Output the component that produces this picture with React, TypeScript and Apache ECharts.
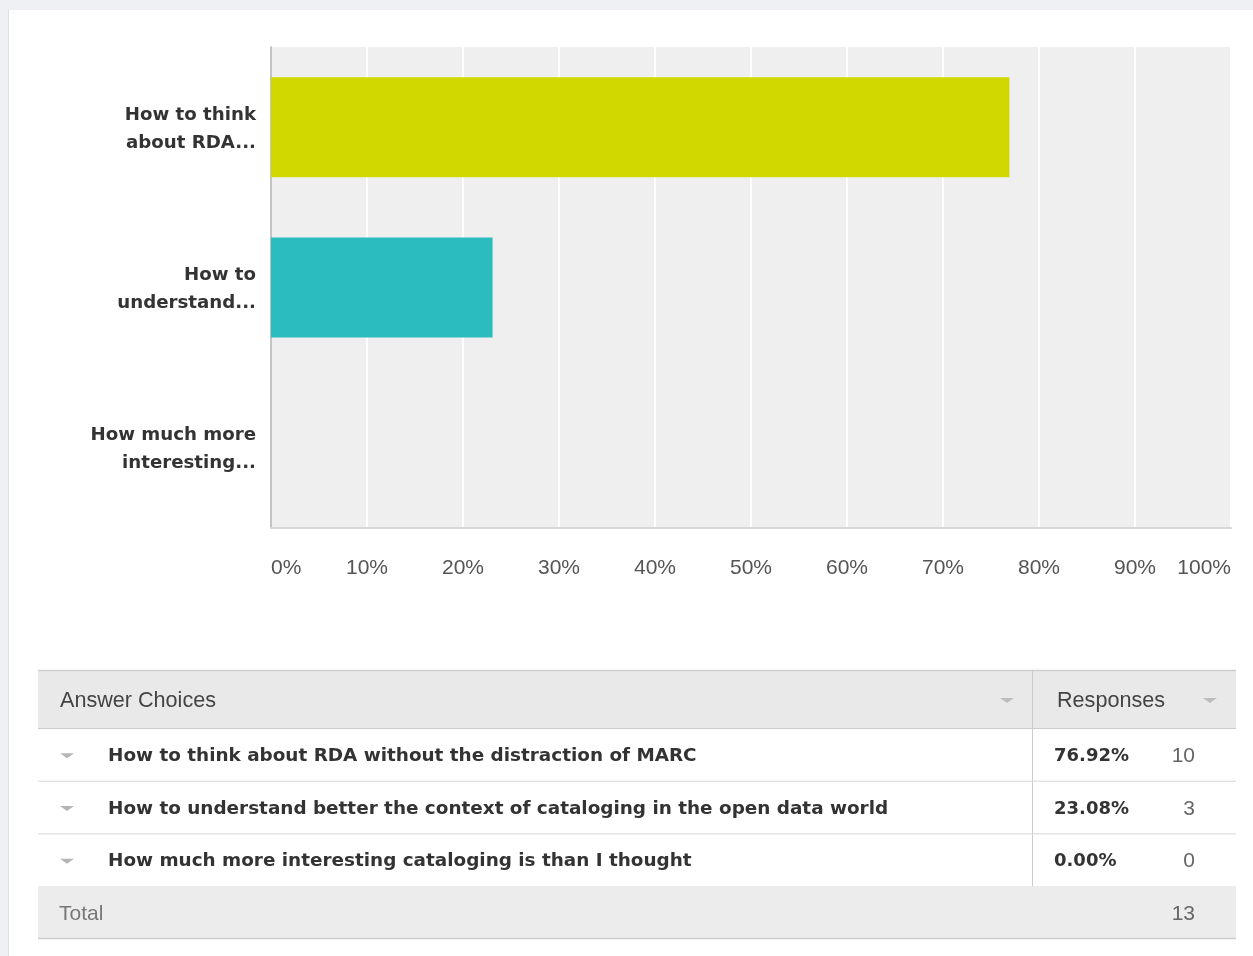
import React, { useEffect, useRef } from "react";
import * as echarts from "echarts";

const axisCategories = ["How to think\nabout RDA...", "How to\nunderstand...", "How much more\ninteresting..."];
const answerChoices = [
  "How to think about RDA without the distraction of MARC",
  "How to understand better the context of cataloging in the open data world",
  "How much more interesting cataloging is than I thought",
];
const percentValues = [76.92, 23.08, 0];
const responseCounts = [10, 3, 0];
const totalCount = 13;
const barColors = ["#d0d800", "#2abcbf", "#8c8c8c"];
const xTicks = [0, 10, 20, 30, 40, 50, 60, 70, 80, 90, 100];

const FONT = "'Liberation Sans', Arial, Helvetica, sans-serif";
const BFONT = "'DejaVu Sans', 'Liberation Sans', Arial, sans-serif";

function tri(x: number, y: number, color: string) {
  return {
    type: "polygon",
    shape: { points: [[x, y], [x + 14, y], [x + 7, y + 5]] },
    style: { fill: color },
    silent: true,
  };
}

export default function App() {
  const ref = useRef<HTMLDivElement>(null);
  useEffect(() => {
    if (!ref.current) return;
    const chart = echarts.init(ref.current, undefined, { renderer: "svg" });

    const tL = 38, tR = 1236, colX = 1032;
    const headerTop = 670, headerBot = 728;
    const rowH = 52.7;
    const rowsBot = headerBot + rowH * answerChoices.length;
    const totalBot = rowsBot + 52;

    const graphics: any[] = [
      { type: "rect", shape: { x: 0, y: 0, width: 1253, height: 956 }, style: { fill: "#eef0f3" }, z: -10, silent: true },
      { type: "rect", shape: { x: 9, y: 10, width: 1244, height: 946 }, style: { fill: "#ffffff" }, z: -9, silent: true },
      { type: "line", shape: { x1: 8.5, y1: 10, x2: 8.5, y2: 956 }, style: { stroke: "#dcdfe3", lineWidth: 1 }, z: -8, silent: true },
      { type: "rect", shape: { x: tL, y: headerTop, width: tR - tL, height: headerBot - headerTop }, style: { fill: "#e9e9e9" } },
      { type: "rect", shape: { x: tL, y: rowsBot, width: tR - tL, height: totalBot - rowsBot }, style: { fill: "#ececec" } },
      { type: "line", shape: { x1: tL, y1: headerTop + 0.5, x2: tR, y2: headerTop + 0.5 }, style: { stroke: "#cfcfcf", lineWidth: 1.5 } },
      { type: "line", shape: { x1: tL, y1: headerBot + 0.5, x2: tR, y2: headerBot + 0.5 }, style: { stroke: "#cccccc", lineWidth: 1 } },
      { type: "line", shape: { x1: tL, y1: totalBot + 0.5, x2: tR, y2: totalBot + 0.5 }, style: { stroke: "#cccccc", lineWidth: 1.5 } },
      { type: "line", shape: { x1: colX + 0.5, y1: headerTop, x2: colX + 0.5, y2: rowsBot }, style: { stroke: "#cccccc", lineWidth: 1 } },
      { type: "text", x: 60, y: 699, style: { text: "Answer Choices", font: `21.6px ${FONT}`, fill: "#444444", verticalAlign: "middle" } },
      { type: "text", x: 1057, y: 699, style: { text: "Responses", font: `21.6px ${FONT}`, fill: "#444444", verticalAlign: "middle" } },
      tri(1000, 698, "#bdbdbd"),
      tri(1203, 698, "#bdbdbd"),
      { type: "text", x: 59, y: 912, style: { text: "Total", font: `21px ${FONT}`, fill: "#777777", verticalAlign: "middle" } },
      { type: "text", x: 1195, y: 912, style: { text: String(totalCount), font: `21px ${FONT}`, fill: "#666666", align: "right", verticalAlign: "middle" } },
    ];

    answerChoices.forEach((txt, i) => {
      const top = headerBot + rowH * i;
      const cy = top + rowH / 2;
      if (i > 0) {
        graphics.push({ type: "line", shape: { x1: tL, y1: top + 0.5, x2: tR, y2: top + 0.5 }, style: { stroke: "#d6d6d6", lineWidth: 1 } });
      }
      graphics.push(tri(60, cy - 1, "#b5b5b5"));
      graphics.push({ type: "text", x: 108, y: cy, style: { text: txt, font: `bold 18.4px ${BFONT}`, fill: "#333333", verticalAlign: "middle" } });
      graphics.push({ type: "text", x: 1054, y: cy, style: { text: percentValues[i].toFixed(2) + "%", font: `bold 18px ${BFONT}`, fill: "#333333", verticalAlign: "middle" } });
      graphics.push({ type: "text", x: 1195, y: cy, style: { text: String(responseCounts[i]), font: `21px ${FONT}`, fill: "#666666", align: "right", verticalAlign: "middle" } });
    });

    chart.setOption({
      animation: false,
      backgroundColor: "transparent",
      grid: { left: 271, top: 47, width: 960, height: 481, show: true, backgroundColor: "#efefef", borderWidth: 0 },
      xAxis: {
        type: "value",
        min: xTicks[0],
        max: xTicks[xTicks.length - 1],
        interval: 10,
        axisLine: { show: true, lineStyle: { color: "#d6d6d6", width: 2 } },
        axisTick: { show: false },
        splitLine: { show: true, lineStyle: { color: "#ffffff", width: 2 } },
        axisLabel: {
          formatter: "{value}%",
          fontSize: 21,
          fontFamily: FONT,
          color: "#555555",
          margin: 28,
          alignMinLabel: "left",
          alignMaxLabel: "right",
        },
      },
      yAxis: {
        type: "category",
        inverse: true,
        data: axisCategories,
        axisLine: { show: true, lineStyle: { color: "#c4c4c4", width: 2 } },
        axisTick: { show: false },
        splitLine: { show: false },
        axisLabel: { fontSize: 18.2, fontWeight: "bold", fontFamily: BFONT, color: "#333333", lineHeight: 28, margin: 15, align: "right" },
      },
      series: [
        {
          type: "bar",
          barWidth: 100,
          data: percentValues.map((v, i) => ({ value: v, itemStyle: { color: barColors[i] } })),
          z: 3,
        },
      ],
      graphic: graphics,
    });
    return () => chart.dispose();
  }, []);
  return <div ref={ref} style={{ position: "fixed", left: 0, top: 0, width: 1253, height: 956 }} />;
}
